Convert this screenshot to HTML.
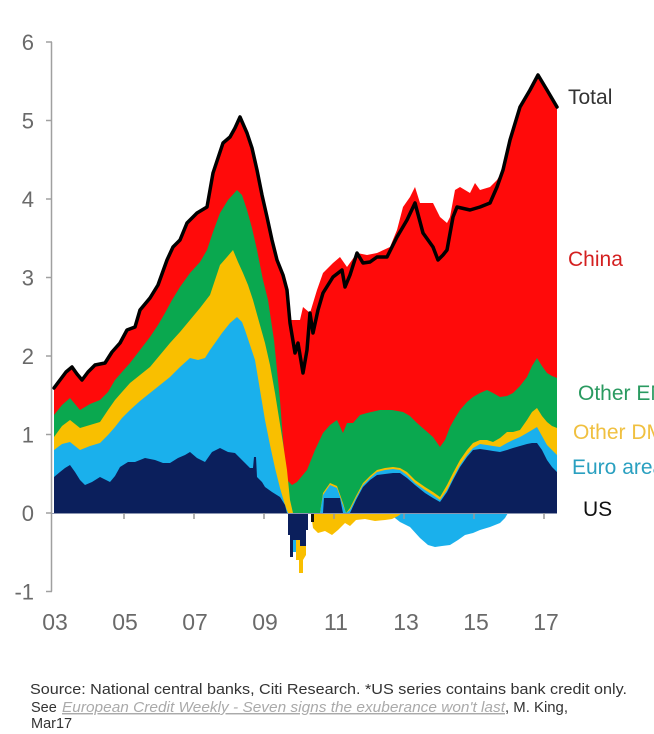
<!DOCTYPE html>
<html>
<head>
<meta charset="utf-8">
<style>
html,body{margin:0;padding:0;background:#fff;}
body{width:654px;height:734px;overflow:hidden;}
svg{display:block;}
text{font-family:"Liberation Sans",Arial,sans-serif;}
</style>
</head>
<body>
<svg width="654" height="734" viewBox="0 0 654 734" xmlns="http://www.w3.org/2000/svg">
<rect width="654" height="734" fill="#fff"/>

<!-- negative areas -->
<polygon fill="#1ab0ec" points="390,513 395,518 400,522 410,527 420,538 428,545 435,547 442,546 450,545 458,540 465,535 473,533 480,530 490,527 500,523 505,518 508,513"/>
<polygon fill="#f9bf00" points="311,513 313,528 318,533 325,531 332,535 338,530 345,523 350,526 356,520 365,519 375,521 385,520 392,519 398,516 402,513"/>
<polygon fill="#1ab0ec" points="290,530 290,552 296,552 296,530"/>
<polygon fill="#f9bf00" points="296,538 296,560 299,560 299,573 303,573 303,560 306,555 306,538"/>
<polygon fill="#0b1f5c" points="288,513 288,535 290,535 290,557 293,557 293,540 300,540 300,546 306,546 306,530 308,530 308,513"/>
<polygon fill="#111" points="311,513 311,522 314,522 314,513"/>

<!-- red (China) -->
<polygon fill="#ff0a0a" points="54,388 60,380 66,372 72,367 77,374 82,380 88,372 95,365 105,363 112,352 120,343 127,330 135,327 140,310 150,298 158,285 167,260 173,247 180,240 187,223 197,213 207,207 213,173 223,143 230,137 235,128 240,117 247,133 252,148 257,170 262,195 267,217 272,240 277,260 283,275 287,290 290,320 300,320 303,307 310,313 317,290 323,273 333,263 340,257 347,267 357,253 367,255 377,253 390,247 397,230 403,207 410,197 415,187 420,203 433,203 440,217 447,223 450,217 455,190 460,187 470,193 475,183 480,190 490,187 497,180 503,170 510,140 520,107 530,90 538,75 547,90 557,107 557,513 54,513"/>

<!-- green (Other EM) -->
<polygon fill="#0aa84f" points="54,415 62,405 70,398 80,410 90,404 100,400 108,392 115,380 122,372 130,363 140,350 150,337 158,325 165,313 172,300 180,287 190,273 200,262 207,250 213,232 220,213 228,200 237,190 242,195 247,210 252,228 257,250 263,280 268,300 274,340 280,400 283,440 287,480 292,485 297,482 307,470 315,450 323,433 330,425 337,420 343,433 347,423 353,423 360,415 367,413 380,410 392,410 403,412 410,416 417,423 425,430 433,437 440,447 445,440 450,427 455,418 460,410 467,402 473,397 480,393 487,390 493,393 500,397 507,396 513,393 520,386 527,377 532,366 537,358 542,366 547,373 552,376 557,378 557,513 54,513"/>

<!-- yellow (Other DM) -->
<polygon fill="#f9bf00" points="54,437 62,426 70,420 80,428 90,425 100,422 108,410 115,400 122,392 130,383 140,375 150,367 160,355 170,343 180,332 190,320 200,308 210,295 220,265 227,257 233,250 238,262 243,273 248,285 253,300 258,318 265,343 270,365 275,393 279,418 283,443 287,470 290,500 293,513 320,513 323,493 330,483 337,486 343,503 346,513 350,508 356,496 363,483 370,476 377,470 385,468 393,467 400,468 407,472 415,480 425,487 433,492 440,497 447,485 453,473 460,460 467,450 473,443 480,440 487,440 493,442 500,438 507,432 513,432 520,430 527,420 532,412 537,408 542,416 547,422 552,426 557,428 557,513 54,513"/>

<!-- light blue (Euro area) -->
<polygon fill="#1ab0ec" points="54,450 62,444 70,442 80,450 90,446 100,443 108,435 115,427 122,418 130,410 140,401 150,393 160,385 170,377 180,367 190,358 198,360 205,358 210,350 215,343 222,333 230,323 237,317 242,322 245,330 250,345 255,360 260,390 265,420 270,445 275,468 280,488 285,505 288,513 320,513 323,495 330,485 337,488 343,505 346,513 350,510 356,498 363,485 370,478 377,472 385,470 393,469 400,470 407,475 415,483 425,490 433,495 440,500 447,490 453,478 460,465 467,455 473,448 480,444 487,445 493,446 500,447 507,443 513,440 520,437 527,433 532,430 537,427 542,436 547,445 552,450 557,455 557,513 54,513"/>

<!-- navy (US) -->
<polygon fill="#0b1f5c" points="54,477 60,472 65,468 70,465 75,472 80,480 85,485 92,482 100,477 110,482 115,476 120,467 128,462 135,462 145,458 155,460 163,463 170,463 178,458 185,455 190,452 197,458 205,462 212,452 220,448 228,452 235,453 240,458 245,463 250,468 253,468 254,457 256,457 257,477 262,482 265,487 272,492 280,497 285,505 287,513 323,513 324,498 340,498 343,513 350,513 356,500 363,487 370,480 377,475 385,474 393,473 400,473 407,478 415,485 425,493 433,498 440,502 447,492 453,480 460,467 467,457 473,450 480,449 487,450 493,451 500,452 507,450 513,448 520,446 527,444 532,443 537,443 542,450 547,460 552,467 557,472 557,513 54,513"/>

<!-- Total line -->
<polyline fill="none" stroke="#000" stroke-width="3.5" stroke-linejoin="round" stroke-linecap="round" points="54,388 60,380 66,372 72,367 77,374 82,380 88,372 95,365 105,363 112,352 120,343 127,330 135,327 140,310 150,298 158,285 167,260 173,247 180,240 187,223 197,213 207,207 213,173 223,143 230,137 235,128 240,117 247,133 252,148 257,170 262,195 267,217 272,240 277,260 283,275 287,290 290,323 295,353 298,343 303,373 307,350 310,313 313,333 318,310 323,293 333,277 342,270 345,287 350,275 357,253 363,263 370,262 377,257 387,257 397,237 407,220 415,203 423,233 433,247 438,260 443,255 447,250 453,217 457,207 470,210 480,207 490,203 497,187 503,170 510,140 520,107 530,90 538,75 547,90 557,107"/>

<!-- x axis zero line and ticks -->
<line x1="52" y1="513.5" x2="557" y2="513.5" stroke="#8a94b0" stroke-width="1"/>
<g stroke="#999" stroke-width="1.5">
<line x1="124" y1="513" x2="124" y2="519"/>
<line x1="194" y1="513" x2="194" y2="519"/>
<line x1="264" y1="513" x2="264" y2="519"/>
<line x1="334" y1="513" x2="334" y2="519"/>
<line x1="404" y1="513" x2="404" y2="519"/>
<line x1="474" y1="513" x2="474" y2="519"/>
<line x1="544" y1="513" x2="544" y2="519"/>
</g>

<!-- y axis -->
<g stroke="#a0a0a0" stroke-width="1.5">
<line x1="51.5" y1="42" x2="51.5" y2="591.5"/>
<line x1="46" y1="42" x2="52" y2="42"/>
<line x1="46" y1="120.5" x2="52" y2="120.5"/>
<line x1="46" y1="199" x2="52" y2="199"/>
<line x1="46" y1="277.5" x2="52" y2="277.5"/>
<line x1="46" y1="356" x2="52" y2="356"/>
<line x1="46" y1="434.5" x2="52" y2="434.5"/>
<line x1="46" y1="513" x2="52" y2="513"/>
<line x1="46" y1="591.5" x2="52" y2="591.5"/>
</g>

<g fill="#6a6a6a" font-size="22" text-anchor="end">
<text x="34" y="50">6</text>
<text x="34" y="128.5">5</text>
<text x="34" y="207">4</text>
<text x="34" y="285.5">3</text>
<text x="34" y="364">2</text>
<text x="34" y="442.5">1</text>
<text x="34" y="521">0</text>
<text x="34" y="599.5">-1</text>
</g>

<g fill="#6a6a6a" font-size="23" text-anchor="middle">
<text x="55" y="630">03</text>
<text x="125" y="630">05</text>
<text x="195" y="630">07</text>
<text x="265" y="630">09</text>
<text x="336" y="630">11</text>
<text x="406" y="630">13</text>
<text x="476" y="630">15</text>
<text x="546" y="630">17</text>
</g>

<!-- legend labels -->
<g font-size="21">
<text x="568" y="104" fill="#333">Total</text>
<text x="568" y="266" fill="#d42020">China</text>
<text x="578" y="400" fill="#2a9a60">Other EM</text>
<text x="573" y="439" fill="#f0c040">Other DM</text>
<text x="572" y="474" fill="#2aa0c0">Euro area</text>
<text x="583" y="516" fill="#111">US</text>
</g>

<!-- source -->
<g font-size="14.5" fill="#333">
<text x="30" y="694" textLength="597" lengthAdjust="spacingAndGlyphs">Source: National central banks, Citi Research. *US series contains bank credit only.</text>
<text x="31" y="712">See</text>
<text x="62" y="712" fill="#aaa" font-style="italic" text-decoration="underline" textLength="443" lengthAdjust="spacingAndGlyphs">European Credit Weekly - Seven signs the exuberance won't last</text>
<text x="505" y="712" textLength="63" lengthAdjust="spacingAndGlyphs">, M. King,</text>
<text x="31" y="728">Mar17</text>
</g>
</svg>
</body>
</html>
